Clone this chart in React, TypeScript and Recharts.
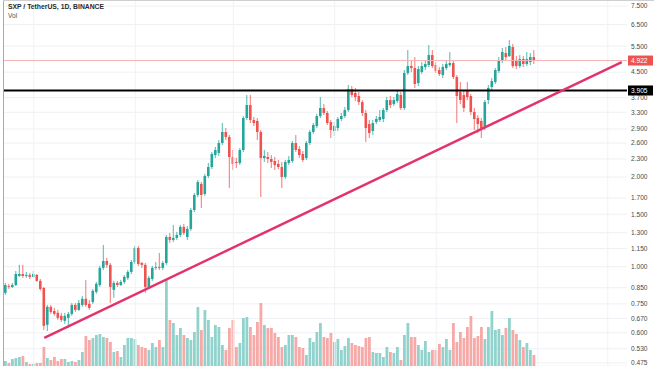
import React from "react";
import { Bar, CartesianGrid, Cell, ComposedChart, ReferenceLine, XAxis, YAxis } from "recharts";

// daily SXP/USDT candles
const opens = [
  0.817, 0.861, 0.855, 0.868, 0.931, 0.945, 0.931, 0.938, 0.924, 0.938,
  0.896, 0.848, 0.638, 0.733, 0.71, 0.7, 0.684, 0.658, 0.673, 0.694,
  0.744, 0.716, 0.744, 0.78, 0.75, 0.761, 0.823, 0.868, 0.991, 1.045,
  1.014, 0.836, 0.882, 0.868, 0.889, 0.917, 0.96, 1.037, 1.156, 1.029,
  1.014, 0.855, 0.909, 0.991, 0.998, 0.991, 1.029, 1.258, 1.23, 1.249,
  1.278, 1.36, 1.258, 1.339, 1.55, 1.741, 1.896, 1.754, 2.016, 2.161,
  2.371, 2.409, 2.602, 2.833, 2.726, 2.335, 2.247, 2.23, 2.465, 3.156,
  3.49, 3.108, 3.084, 2.833, 2.317, 2.335, 2.299, 2.264, 2.213, 2.161,
  2.001, 2.23, 2.264, 2.602, 2.484, 2.39, 2.317, 2.602, 2.833, 2.967,
  3.205, 3.41, 3.281, 3.06, 2.855, 2.922, 3.132, 3.205, 3.358, 3.949,
  3.829, 3.741, 3.572, 3.281, 3.013, 2.855, 3.06, 3.108, 3.132, 3.358,
  3.627, 3.517, 3.599, 3.77, 3.41, 4.469, 4.717, 4.645, 4.137, 4.504,
  4.681, 4.754, 5.136, 4.754, 4.574, 4.4, 4.645, 4.754, 4.828, 4.333,
  3.859, 3.77, 3.919, 3.741, 3.307, 3.156, 3.084, 2.922, 3.627, 4.011,
  4.169, 4.539, 4.903, 5.216, 5.096, 5.464, 4.941, 4.717, 4.979, 4.791,
  4.865, 5.057,
];
const highs = [
  0.882, 0.876, 0.882, 0.967, 1.014, 1.014, 0.96, 0.953, 0.967, 0.945,
  0.909, 0.855, 0.744, 0.744, 0.727, 0.716, 0.7, 0.7, 0.705, 0.755,
  0.755, 0.773, 0.798, 0.903, 0.773, 0.842, 0.889, 1.006, 1.183, 1.07,
  1.029, 0.896, 0.896, 0.903, 0.938, 0.975, 1.053, 1.174, 1.174, 1.037,
  1.029, 0.931, 1.006, 1.037, 1.112, 1.045, 1.278, 1.298, 1.381, 1.308,
  1.381, 1.391, 1.37, 1.574, 1.768, 1.955, 1.925, 2.048, 2.23, 2.427,
  2.523, 2.663, 3.037, 2.922, 2.768, 2.465, 2.317, 2.503, 3.205, 3.77,
  3.77, 3.181, 3.156, 2.877, 2.465, 2.427, 2.371, 2.335, 2.282, 2.247,
  2.282, 2.353, 2.642, 2.768, 2.542, 2.446, 2.642, 2.877, 3.037, 3.256,
  3.712, 3.517, 3.332, 3.108, 3.06, 3.181, 3.281, 3.437, 4.073, 4.042,
  3.98, 3.859, 3.627, 3.358, 3.108, 3.108, 3.205, 3.358, 3.41, 3.712,
  3.741, 3.712, 3.919, 3.859, 4.574, 5.338, 4.941, 5.057, 4.717, 4.865,
  4.941, 5.549, 5.338, 4.865, 4.681, 4.791, 4.941, 5.256, 4.941, 4.4,
  4.169, 3.919, 4.169, 3.8, 3.41, 3.23, 3.156, 3.627, 4.073, 4.299,
  4.645, 5.057, 5.422, 5.464, 5.767, 5.592, 5.096, 5.136, 5.096, 5.256,
  5.216, 5.338,
];
const lows = [
  0.804, 0.842, 0.848, 0.861, 0.924, 0.917, 0.917, 0.909, 0.917, 0.889,
  0.83, 0.613, 0.608, 0.694, 0.684, 0.663, 0.653, 0.643, 0.623, 0.684,
  0.705, 0.71, 0.733, 0.733, 0.716, 0.75, 0.811, 0.855, 0.975, 0.991,
  0.755, 0.786, 0.855, 0.861, 0.876, 0.903, 0.945, 1.021, 1.006, 0.991,
  0.817, 0.842, 0.896, 0.975, 0.975, 0.975, 1.014, 1.202, 1.211, 1.23,
  1.258, 1.278, 1.23, 1.318, 1.526, 1.714, 1.574, 1.728, 1.985, 2.128,
  2.317, 2.353, 2.562, 2.663, 1.838, 2.112, 2.145, 2.195, 2.427, 3.108,
  3.037, 2.967, 2.663, 1.714, 2.247, 2.23, 2.145, 2.112, 2.128, 1.838,
  1.97, 2.195, 2.23, 2.427, 2.317, 2.247, 2.282, 2.562, 2.79, 2.922,
  3.156, 3.23, 2.99, 2.705, 2.747, 2.855, 3.084, 3.156, 3.307, 3.712,
  3.599, 3.49, 3.205, 2.622, 2.705, 2.768, 3.013, 3.06, 3.06, 3.307,
  3.41, 3.463, 3.544, 3.358, 3.358, 4.4, 4.504, 3.98, 4.042, 4.435,
  4.574, 4.681, 4.645, 4.469, 4.366, 4.299, 4.574, 4.681, 4.266, 3.037,
  3.517, 3.307, 3.627, 3.23, 2.877, 2.811, 2.705, 2.877, 3.517, 3.919,
  4.105, 4.469, 4.828, 4.941, 5.057, 4.645, 4.609, 4.645, 4.681, 4.717,
  4.754, 4.791,
];
const closes = [
  0.868, 0.855, 0.868, 0.945, 0.945, 0.931, 0.938, 0.924, 0.945, 0.896,
  0.842, 0.633, 0.733, 0.705, 0.694, 0.673, 0.663, 0.684, 0.694, 0.744,
  0.716, 0.755, 0.78, 0.744, 0.727, 0.83, 0.876, 0.991, 1.045, 1.014,
  0.855, 0.882, 0.868, 0.889, 0.924, 0.96, 1.037, 1.156, 1.021, 1.014,
  0.855, 0.917, 0.991, 0.998, 0.991, 1.029, 1.258, 1.23, 1.249, 1.278,
  1.36, 1.298, 1.339, 1.55, 1.741, 1.925, 1.741, 2.016, 2.161, 2.39,
  2.465, 2.602, 2.833, 2.726, 2.335, 2.213, 2.23, 2.465, 3.156, 3.49,
  3.108, 3.037, 2.833, 2.317, 2.353, 2.299, 2.247, 2.195, 2.161, 2.001,
  2.247, 2.282, 2.602, 2.465, 2.371, 2.282, 2.602, 2.833, 2.99, 3.205,
  3.41, 3.281, 3.037, 2.877, 2.967, 3.132, 3.205, 3.358, 3.949, 3.77,
  3.712, 3.572, 3.281, 2.922, 2.811, 3.037, 3.132, 3.181, 3.358, 3.627,
  3.49, 3.627, 3.8, 3.41, 4.469, 4.717, 4.645, 4.105, 4.609, 4.717,
  4.791, 5.136, 4.717, 4.539, 4.435, 4.681, 4.791, 4.828, 4.333, 3.741,
  3.627, 3.41, 3.712, 3.307, 3.132, 3.013, 2.922, 3.572, 3.98, 4.201,
  4.574, 4.941, 5.256, 5.057, 5.506, 4.717, 4.717, 4.979, 4.791, 4.979,
  5.057, 4.922,
];
// volume, millions
const volumes = [
  2.5, 1.5, 3.5, 4, 4.5, 5, 2, 1, 1, 1.5,
  1.5, 9.5, 4, 3, 4.5, 2.5, 3.5, 3.5, 2, 2.5,
  2, 3, 7, 15, 13, 14, 15.5, 16, 14.5, 14,
  12, 7, 7.5, 4.5, 10.5, 14, 14, 13.5, 10.5, 9.5,
  9, 8, 11.5, 9.5, 13, 9.5, 43, 23, 21.5, 15.5,
  19, 15.5, 14, 13, 17, 29.5, 18, 28, 23, 14.5,
  20.5, 19.5, 10.5, 8, 19, 23, 9.5, 11.5, 24, 24.5,
  19.5, 15.5, 22, 31.5, 20.5, 19, 19, 16.5, 14.5, 9.5,
  10.5, 15.5, 15.5, 14.5, 9.5, 9, 5.5, 14, 12, 17,
  21.5, 14.5, 14, 16.5, 12, 13.5, 8, 10, 14, 11.5,
  10.5, 10, 9.5, 14, 14.5, 7, 6.5, 6.5, 4.5, 9.5,
  7, 6.5, 9.5, 3, 15.5, 21.5, 14.5, 14.5, 10.5, 8,
  12.5, 7, 8, 8, 11, 9.5, 13.5, 8, 21.5, 12,
  17, 14, 19.5, 25, 14, 15, 19.5, 13.5, 19.5, 27.5,
  18, 18.5, 15.5, 19, 24, 18, 16, 13, 9.5, 11.5,
  8, 5.5,
];

const priceTicks = [7.5, 6.5, 5.5, 4.5, 3.7, 3.3, 2.9, 2.6, 2.3, 2.0, 1.7, 1.5, 1.3, 1.15, 1.0, 0.85, 0.75, 0.67, 0.6, 0.53, 0.475];
const lastPrice = 4.922;
const levelPrice = 3.905;
const trendStart = { i: 11, price: 0.577 };
const trendEnd = { i: 176, price: 4.865 };
const gridSlots = [8, 37, 65, 94, 123, 152, 172];
const emptySlots = 26;

const UP = "#26a69a";
const DOWN = "#ef5350";
const FONT = "'Liberation Sans', Arial, sans-serif";

const rows = Array.from({ length: opens.length + emptySlots }, (_, i) =>
  i < opens.length
    ? { i, o: opens[i], h: highs[i], l: lows[i], c: closes[i], range: [lows[i], highs[i]], vol: volumes[i] }
    : { i }
);

function Candle(props: any) {
  const { x, y, width, height, payload } = props;
  if (!payload || payload.o == null) return null;
  const { o, h, l, c } = payload;
  const yTop = Math.min(y, y + height);
  const span = Math.abs(height);
  const lnSpan = Math.log(h) - Math.log(l) || 1;
  const toY = (v: number) => yTop + ((Math.log(h) - Math.log(v)) / lnSpan) * span;
  const color = c >= o ? UP : DOWN;
  const cx = x + width / 2;
  const top = toY(Math.max(o, c));
  const bottom = toY(Math.min(o, c));
  return (
    <g>
      <line x1={cx} x2={cx} y1={yTop} y2={yTop + span} stroke={color} strokeWidth={0.8} />
      <rect x={x} y={top} width={width} height={Math.max(bottom - top, 0.8)} fill={color} />
    </g>
  );
}

const priceTag = (text: string, bg: string) => (props: any) => {
  const vb = props.viewBox || {};
  const x = vb.x + vb.width + 1;
  const y = vb.y;
  return (
    <g>
      <rect x={x} y={y - 5} width={25} height={10} fill={bg} />
      <text x={x + 3} y={y + 2.5} fontSize={6.6} fill="#fff" fontFamily={FONT}>{text}</text>
    </g>
  );
};

export default function App() {
  return (
    <div style={{ position: "absolute", left: 0, top: 0, width: 654, height: 366, background: "#fff", overflow: "hidden" }}>
      <ComposedChart width={654} height={366} data={rows} margin={{ top: 0, right: 0, bottom: 0, left: 4 }} barGap={0}>
        <XAxis xAxisId="c" dataKey="i" hide />
        <XAxis xAxisId="v" dataKey="i" hide />
        <YAxis
          yAxisId="p"
          orientation="right"
          scale="log"
          domain={[0.464, 7.86]}
          allowDataOverflow
          ticks={priceTicks}
          interval={0}
          width={27}
          axisLine={false}
          tickLine={false}
          tickSize={0}
          tickMargin={4}
          tick={{ fontSize: 6.6, fill: "#4a4a4a", fontFamily: FONT }}
          tickFormatter={(v: number) => v.toFixed(3)}
        />
        <YAxis yAxisId="vol" hide domain={[0, 183]} />
        <CartesianGrid xAxisId="c" yAxisId="p" vertical={false} stroke="#eef0f4" />
        {gridSlots.map((g) => (
          <ReferenceLine key={g} xAxisId="c" yAxisId="p" x={g} stroke="#f0f2f5" />
        ))}
        <Bar xAxisId="v" yAxisId="vol" dataKey="vol" barSize={2.8} isAnimationActive={false}>
          {rows.map((r: any) => (
            <Cell key={r.i} fill={r.c >= r.o ? "#92d2cc" : "#f7a9a7"} />
          ))}
        </Bar>
        <Bar xAxisId="c" yAxisId="p" dataKey="range" barSize={2.6} shape={Candle} isAnimationActive={false} />
        <ReferenceLine xAxisId="c" yAxisId="p" y={lastPrice} stroke="#f5b3b2" strokeWidth={1} label={priceTag(lastPrice.toFixed(3), DOWN)} />
        <ReferenceLine xAxisId="c" yAxisId="p" y={levelPrice} stroke="#000" strokeWidth={2} label={priceTag(levelPrice.toFixed(3), "#000")} />
        <ReferenceLine
          xAxisId="c"
          yAxisId="p"
          segment={[{ x: trendStart.i, y: trendStart.price }, { x: trendEnd.i, y: trendEnd.price }]}
          stroke="#e2336b"
          strokeWidth={2.4}
        />
      </ComposedChart>
      <div style={{ position: "absolute", left: 3, top: 0, width: 1, height: 366, background: "#a9a9a9" }} />
      <div style={{ position: "absolute", left: 3, top: 0, width: 651, height: 1, background: "#cfcfcf" }} />
      <div style={{ position: "absolute", left: 8, top: 3, fontSize: 6.8, fontWeight: 700, color: "#2b2b2b", fontFamily: FONT, whiteSpace: "nowrap" }}>
        SXP / TetherUS, 1D, BINANCE
      </div>
      <div style={{ position: "absolute", left: 8, top: 12, fontSize: 6.6, color: "#555", fontFamily: FONT }}>Vol</div>
    </div>
  );
}
